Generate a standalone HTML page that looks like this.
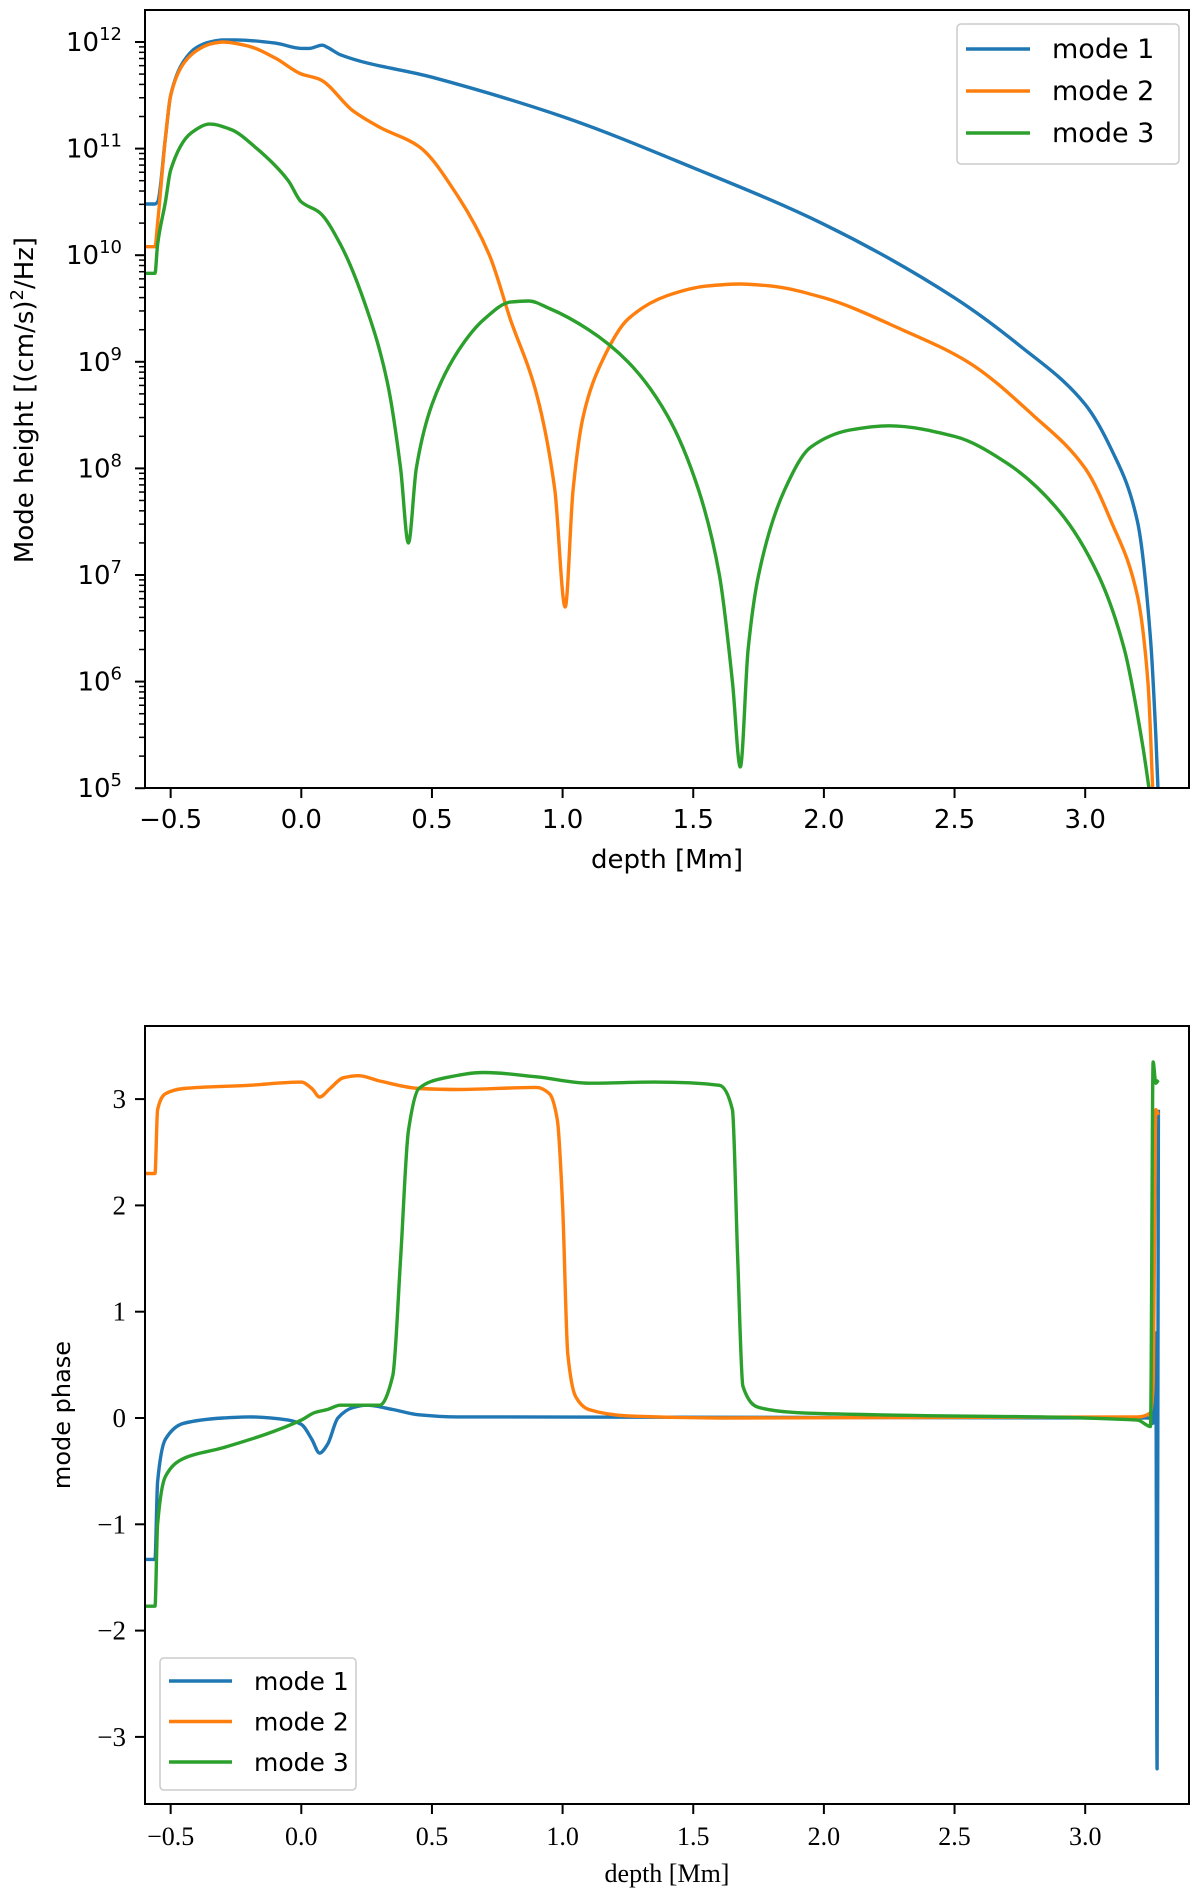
<!DOCTYPE html>
<html><head><meta charset="utf-8"><style>
body{margin:0;background:#fff;}
svg{display:block;}
.sans{font-family:"DejaVu Sans","Liberation Sans",sans-serif;}
.serif{font-family:"Liberation Serif","DejaVu Serif",serif;}
</style></head><body>
<svg id="fig" width="1200" height="1902" viewBox="0 0 1200 1902" xmlns="http://www.w3.org/2000/svg">
<defs>
<clipPath id="clipTop"><rect x="145" y="10" width="1044" height="778"/></clipPath>
<clipPath id="clipBot"><rect x="145" y="1026" width="1044" height="778"/></clipPath>
</defs>
<g id="topChart"></g>
<g id="botChart"></g>
</svg>
<script>
// ---- data ----
const xTicks = [-0.5, 0.0, 0.5, 1.0, 1.5, 2.0, 2.5, 3.0];
const xTickLabels = ["\u22120.5","0.0","0.5","1.0","1.5","2.0","2.5","3.0"];
const logTicks = [5,6,7,8,9,10,11,12];
const phaseTicks = [-3,-2,-1,0,1,2,3];
const phaseTickLabels = ["\u22123","\u22122","\u22121","0","1","2","3"];
const seriesNames = ["mode 1","mode 2","mode 3"];
const colors = ["#1f77b4","#ff7f0e","#2ca02c"];

const h1Depth = [-0.6,-0.56,-0.55,-0.52,-0.5,-0.45,-0.4,-0.35,-0.3,-0.25,-0.1,0.0,0.03,0.08,0.1,0.15,0.5,1.0,1.5,2.0,2.5,2.75,3.0,3.1,3.2,3.25,3.27,3.28];
const h1Log =   [10.48,10.48,10.5,11.1,11.5,11.82,11.95,12.0,12.02,12.02,11.99,11.94,11.94,11.97,11.95,11.88,11.67,11.3,10.82,10.29,9.6,9.15,8.6,8.18,7.5,6.4,5.5,4.9];

const h2Depth = [-0.6,-0.56,-0.55,-0.52,-0.5,-0.45,-0.4,-0.35,-0.3,-0.2,-0.1,0.0,0.07,0.2,0.3,0.45,0.6,0.72,0.8,0.9,0.97,1.01,1.04,1.08,1.15,1.25,1.4,1.55,1.68,1.8,2.0,2.3,2.55,2.8,3.0,3.1,3.2,3.24,3.26];
const h2Log =   [10.08,10.08,10.3,11.1,11.5,11.8,11.92,11.98,12.0,11.96,11.85,11.7,11.65,11.35,11.2,11.02,10.55,10.0,9.4,8.7,7.8,6.7,7.8,8.5,9.0,9.4,9.62,9.71,9.73,9.71,9.6,9.3,9.0,8.5,8.0,7.5,6.8,6.0,4.9];

const h3Depth = [-0.6,-0.56,-0.55,-0.52,-0.5,-0.42,-0.35,-0.27,-0.17,-0.05,0.0,0.07,0.15,0.25,0.33,0.38,0.41,0.44,0.5,0.6,0.7,0.8,0.87,0.95,1.1,1.25,1.4,1.52,1.6,1.65,1.68,1.71,1.75,1.85,1.95,2.1,2.25,2.5,2.7,2.9,3.05,3.15,3.22,3.25];
const h3Log =   [9.83,9.83,10.1,10.5,10.8,11.15,11.23,11.18,11.0,10.7,10.5,10.4,10.1,9.5,8.8,8.0,7.3,8.0,8.6,9.1,9.4,9.56,9.57,9.5,9.3,9.0,8.5,7.8,7.0,6.0,5.2,6.3,7.0,7.8,8.2,8.36,8.4,8.3,8.05,7.6,7.0,6.3,5.4,4.9];

const p1Depth = [-0.6,-0.56,-0.55,-0.52,-0.45,-0.3,-0.2,-0.05,0.0,0.04,0.07,0.1,0.14,0.2,0.25,0.35,0.45,0.6,3.25,3.26,3.27,3.275,3.28];
const p1Phase = [-1.33,-1.33,-0.6,-0.2,-0.05,0.0,0.01,-0.02,-0.06,-0.2,-0.33,-0.25,0.0,0.1,0.12,0.08,0.03,0.01,0.0,-0.05,0.8,-3.3,2.9];

const p2Depth = [-0.6,-0.56,-0.55,-0.52,-0.45,-0.2,0.0,0.04,0.07,0.11,0.16,0.22,0.3,0.45,0.6,0.9,0.95,0.98,1.0,1.02,1.05,1.1,1.25,1.6,3.2,3.25,3.26,3.27,3.28];
const p2Phase = [2.3,2.3,2.9,3.05,3.1,3.13,3.16,3.1,3.02,3.1,3.2,3.22,3.17,3.1,3.09,3.11,3.05,2.8,2.0,0.6,0.2,0.08,0.02,0.0,0.01,0.05,0.3,2.9,2.85];

const p3Depth = [-0.6,-0.56,-0.55,-0.52,-0.45,-0.3,0.0,0.05,0.1,0.15,0.3,0.35,0.38,0.41,0.45,0.55,0.7,0.9,1.1,1.35,1.6,1.65,1.67,1.69,1.75,1.9,2.2,3.2,3.25,3.26,3.27,3.28];
const p3Phase = [-1.77,-1.77,-1.0,-0.55,-0.38,-0.28,-0.02,0.05,0.08,0.12,0.12,0.4,1.5,2.7,3.1,3.2,3.25,3.21,3.15,3.16,3.13,2.9,1.5,0.3,0.1,0.05,0.03,-0.02,-0.08,3.35,3.15,3.18];

// ---- axes ----
const X0 = 145, X1 = 1189;
function xs(d){ return 301.3 + 261.3*d; }
function yTop(l){ return 42 + (12 - l)*106.6; }
function yBot(p){ return 1418 - 106.3*p; }
const NS = "http://www.w3.org/2000/svg";
function mk(tag, parent, attrs){ const e=document.createElementNS(NS,tag); for(const k in attrs) e.setAttribute(k,attrs[k]); parent.appendChild(e); return e; }

const topG = document.getElementById('topChart');
const botG = document.getElementById('botChart');

// monotone cubic path through the data points
function linePath(xsArr, ysArr, yf){
  const n = xsArr.length;
  const X = xsArr.map(xs), Y = ysArr.map(yf);
  const dx=[], m=[];
  for(let i=0;i<n-1;i++){ dx.push(X[i+1]-X[i]); m.push(dx[i]===0?0:(Y[i+1]-Y[i])/dx[i]); }
  const t=new Array(n);
  t[0]=m[0]; t[n-1]=m[n-2];
  for(let i=1;i<n-1;i++){
    if(m[i-1]*m[i]<=0) t[i]=0;
    else { const w1=2*dx[i]+dx[i-1], w2=dx[i]+2*dx[i-1]; t[i]=(w1+w2)/(w1/m[i-1]+w2/m[i]); }
  }
  let d="M"+X[0].toFixed(1)+","+Y[0].toFixed(1);
  for(let i=0;i<n-1;i++){
    const h=dx[i]/3;
    d+="C"+(X[i]+h).toFixed(1)+","+(Y[i]+t[i]*h).toFixed(1)+" "+(X[i+1]-h).toFixed(1)+","+(Y[i+1]-t[i+1]*h).toFixed(1)+" "+X[i+1].toFixed(1)+","+Y[i+1].toFixed(1);
  }
  return d;
}

// top chart series
const gTop = mk('g', topG, {'clip-path':'url(#clipTop)'});
[[h1Depth,h1Log],[h2Depth,h2Log],[h3Depth,h3Log]].forEach((s,i)=>{
  const p = mk('path', gTop, {d:linePath(s[0],s[1],yTop), fill:'none', stroke:colors[i], 'stroke-width':3.4, 'stroke-linejoin':'round'});
  
  
});
const fT = mk('rect', topG, {x:X0,y:10,width:X1-X0,height:778,fill:'none',stroke:'#000','stroke-width':2});


xTicks.forEach((t,i)=>{
  const x=xs(t);
  mk('line', topG, {x1:x,y1:788,x2:x,y2:798,stroke:'#000','stroke-width':2});
  const tx = mk('text', topG, {x:x,y:828,'text-anchor':'middle','font-size':26,class:'sans'});
  tx.textContent = xTickLabels[i];
  
  
});
logTicks.forEach(t=>{
  const y=yTop(t);
  mk('line', topG, {x1:X0-10,y1:y,x2:X0,y2:y,stroke:'#000','stroke-width':2});
  const tx = mk('text', topG, {x:122,y:y+9,'text-anchor':'end','font-size':26,class:'sans'});
  
  
  const a = document.createElementNS(NS,'tspan'); a.textContent='10'; tx.appendChild(a);
  const b = document.createElementNS(NS,'tspan'); b.setAttribute('dy','-11'); b.setAttribute('font-size','18'); b.textContent=String(t); tx.appendChild(b);
  for(let k=2;k<10;k++){ const yy=yTop(t+Math.log10(k)); if(yy>=10) mk('line', topG,{x1:X0-6,y1:yy,x2:X0,y2:yy,stroke:'#000','stroke-width':1.5}); }
});
const xlT = mk('text', topG, {x:667,y:868,'text-anchor':'middle','font-size':26,class:'sans'});
xlT.textContent='depth [Mm]';


const ylT = mk('text', topG, {x:0,y:0,'text-anchor':'middle','font-size':26,class:'sans',transform:'translate(33,400) rotate(-90)'});


const yl1 = document.createElementNS(NS,'tspan'); yl1.textContent='Mode height [(cm/s)'; ylT.appendChild(yl1);
const yl2 = document.createElementNS(NS,'tspan'); yl2.setAttribute('dy','-10'); yl2.setAttribute('font-size','18'); yl2.textContent='2'; ylT.appendChild(yl2);
const yl3 = document.createElementNS(NS,'tspan'); yl3.setAttribute('dy','10'); yl3.textContent='/Hz]'; ylT.appendChild(yl3);

const lgT = mk('g', topG, {});


mk('rect', lgT, {x:957,y:24,width:222,height:140,rx:4,fill:'#fff',stroke:'#ccc','stroke-width':1.5});
seriesNames.forEach((n,i)=>{
  const y=49+i*42;
  mk('line', lgT, {x1:966,y1:y,x2:1030,y2:y,stroke:colors[i],'stroke-width':3.5});
  const t = mk('text', lgT, {x:1052,y:y+9,'font-size':27,class:'sans'});
  t.textContent=n;
  
  
});

// bottom chart
const gBot = mk('g', botG, {'clip-path':'url(#clipBot)'});
[[p1Depth,p1Phase],[p2Depth,p2Phase],[p3Depth,p3Phase]].forEach((s,i)=>{
  const p = mk('path', gBot, {d:linePath(s[0],s[1],yBot), fill:'none', stroke:colors[i], 'stroke-width':3.4, 'stroke-linejoin':'round'});
  
  
});
const fB = mk('rect', botG, {x:X0,y:1026,width:X1-X0,height:778,fill:'none',stroke:'#000','stroke-width':2});


xTicks.forEach((t,i)=>{
  const x=xs(t);
  mk('line', botG, {x1:x,y1:1804,x2:x,y2:1814,stroke:'#000','stroke-width':2});
  const tx = mk('text', botG, {x:x,y:1845,'text-anchor':'middle','font-size':26,class:'serif'});
  tx.textContent = xTickLabels[i];
  
  
});
phaseTicks.forEach((t,i)=>{
  const y=yBot(t);
  mk('line', botG, {x1:X0-10,y1:y,x2:X0,y2:y,stroke:'#000','stroke-width':2});
  const tx = mk('text', botG, {x:126,y:y+9,'text-anchor':'end','font-size':27,class:'serif'});
  tx.textContent = phaseTickLabels[i];
  
  
});
const xlB = mk('text', botG, {x:667,y:1882,'text-anchor':'middle','font-size':26,class:'serif'});
xlB.textContent='depth [Mm]';


const ylB = mk('text', botG, {x:0,y:0,'text-anchor':'middle','font-size':24,class:'sans',transform:'translate(70,1415) rotate(-90)'});
ylB.textContent='mode phase';



const lgB = mk('g', botG, {});


mk('rect', lgB, {x:160,y:1658,width:196,height:132,rx:4,fill:'#fff',stroke:'#ccc','stroke-width':1.5});
seriesNames.forEach((n,i)=>{
  const y=1681+i*40.5;
  mk('line', lgB, {x1:169,y1:y,x2:232,y2:y,stroke:colors[i],'stroke-width':3.5});
  const t = mk('text', lgB, {x:254,y:y+9,'font-size':25,class:'sans'});
  t.textContent=n;
  
  
});
</script>
</body></html>
